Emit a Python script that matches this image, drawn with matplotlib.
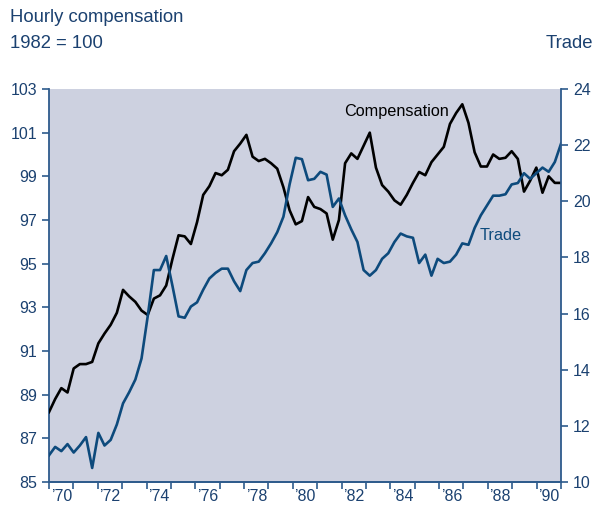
import matplotlib
matplotlib.use("Agg")
import matplotlib.pyplot as plt
import numpy as np

# quarterly, 1970 Q1 to 1990 Q4
compensation = [88.2, 88.8, 89.3, 89.1, 90.2, 90.4, 90.4, 90.5, 91.35, 91.8,
                92.2, 92.75, 93.8, 93.5, 93.25, 92.85, 92.65, 93.4, 93.55, 94.0,
                95.2, 96.3, 96.25, 95.9, 96.9, 98.15, 98.55, 99.15, 99.05, 99.3,
                100.15, 100.5, 100.9, 99.9, 99.7, 99.8, 99.6, 99.35, 98.5, 97.45,
                96.8, 96.95, 98.05, 97.6, 97.5, 97.3, 96.1, 97.0, 99.6, 100.05,
                99.8, 100.4, 101.0, 99.4, 98.6, 98.3, 97.9, 97.7, 98.15, 98.7,
                99.2, 99.05, 99.65, 100.0, 100.35, 101.4, 101.9, 102.3, 101.45, 100.1,
                99.45, 99.45, 100.0, 99.8, 99.85, 100.15, 99.8, 98.3, 98.8, 99.4,
                98.25, 99.0, 98.7, 98.7]
trade = [10.95, 11.25, 11.1, 11.35, 11.05, 11.3, 11.6, 10.5, 11.75, 11.3,
         11.5, 12.05, 12.8, 13.2, 13.65, 14.4, 15.9, 17.55, 17.55, 18.05,
         17.0, 15.9, 15.85, 16.25, 16.4, 16.85, 17.25, 17.45, 17.6, 17.6,
         17.15, 16.8, 17.55, 17.8, 17.85, 18.15, 18.5, 18.9, 19.45, 20.6,
         21.55, 21.5, 20.75, 20.8, 21.05, 20.95, 19.8, 20.1, 19.5, 19.0,
         18.55, 17.55, 17.35, 17.55, 17.95, 18.15, 18.55, 18.85, 18.75, 18.7,
         17.8, 18.1, 17.35, 17.95, 17.8, 17.85, 18.1, 18.5, 18.45, 19.05,
         19.5, 19.85, 20.2, 20.2, 20.25, 20.6, 20.65, 21.0, 20.8, 21.0,
         21.2, 21.05, 21.4, 22.05]
years = np.linspace(1970, 1991, len(compensation))
year_labels = ["’70", "’72", "’74", "’76", "’78", "’80", "’82", "’84", "’86", "’88", "’90"]

navy = "#1b4170"
axis_blue = "#2e5b8c"
trade_blue = "#0d4a7c"
plt.rcParams["font.family"] = ["Liberation Sans", "DejaVu Sans"]

fig = plt.figure(figsize=(5.95, 5.05), dpi=100)
ax = fig.add_axes([49 / 595, 23 / 505, 512 / 595, 393 / 505])
ax.set_facecolor("#cdd1e0")
ax2 = ax.twinx()

ax.plot(years, compensation, color="black", lw=1.9, zorder=3)
ax2.plot(years, trade, color=trade_blue, lw=1.9)

ax.set_xlim(1970, 1991)
ax.set_ylim(85, 103)
ax2.set_ylim(10, 24)
ax.set_yticks(np.arange(85, 104, 2))
ax2.set_yticks(np.arange(10, 25, 2))

ax.set_xticks(np.arange(1970, 1992))
ax.set_xticklabels([])
ax.set_xticks(np.arange(1970.5, 1991, 2), minor=True)
ax.set_xticklabels(year_labels, minor=True)
ax.tick_params(axis="x", which="minor", length=0, pad=5)

for a in (ax, ax2):
    for s in a.spines.values():
        s.set_color(axis_blue)
        s.set_linewidth(1.3)
    a.spines["top"].set_visible(False)
    a.tick_params(which="both", colors=axis_blue, labelcolor=navy,
                  labelsize=11.5, width=1.2, length=5)
ax.tick_params(axis="x", which="minor", length=0)
ax.spines["right"].set_visible(False)
ax2.spines["left"].set_visible(False)

ax.text(1982.1, 101.95, "Compensation", fontsize=11.7, color="black", va="center")
ax.text(1987.65, 96.3, "Trade", fontsize=11.7, color=trade_blue, va="center")

fig.text(10 / 595, 1 - 18 / 505, "Hourly compensation", fontsize=13.3, color=navy, va="center")
fig.text(10 / 595, 1 - 44 / 505, "1982 = 100", fontsize=13.3, color=navy, va="center")
fig.text(593 / 595, 1 - 44 / 505, "Trade", fontsize=13.3, color=navy, va="center", ha="right")

fig.savefig("out.png", dpi=100)
